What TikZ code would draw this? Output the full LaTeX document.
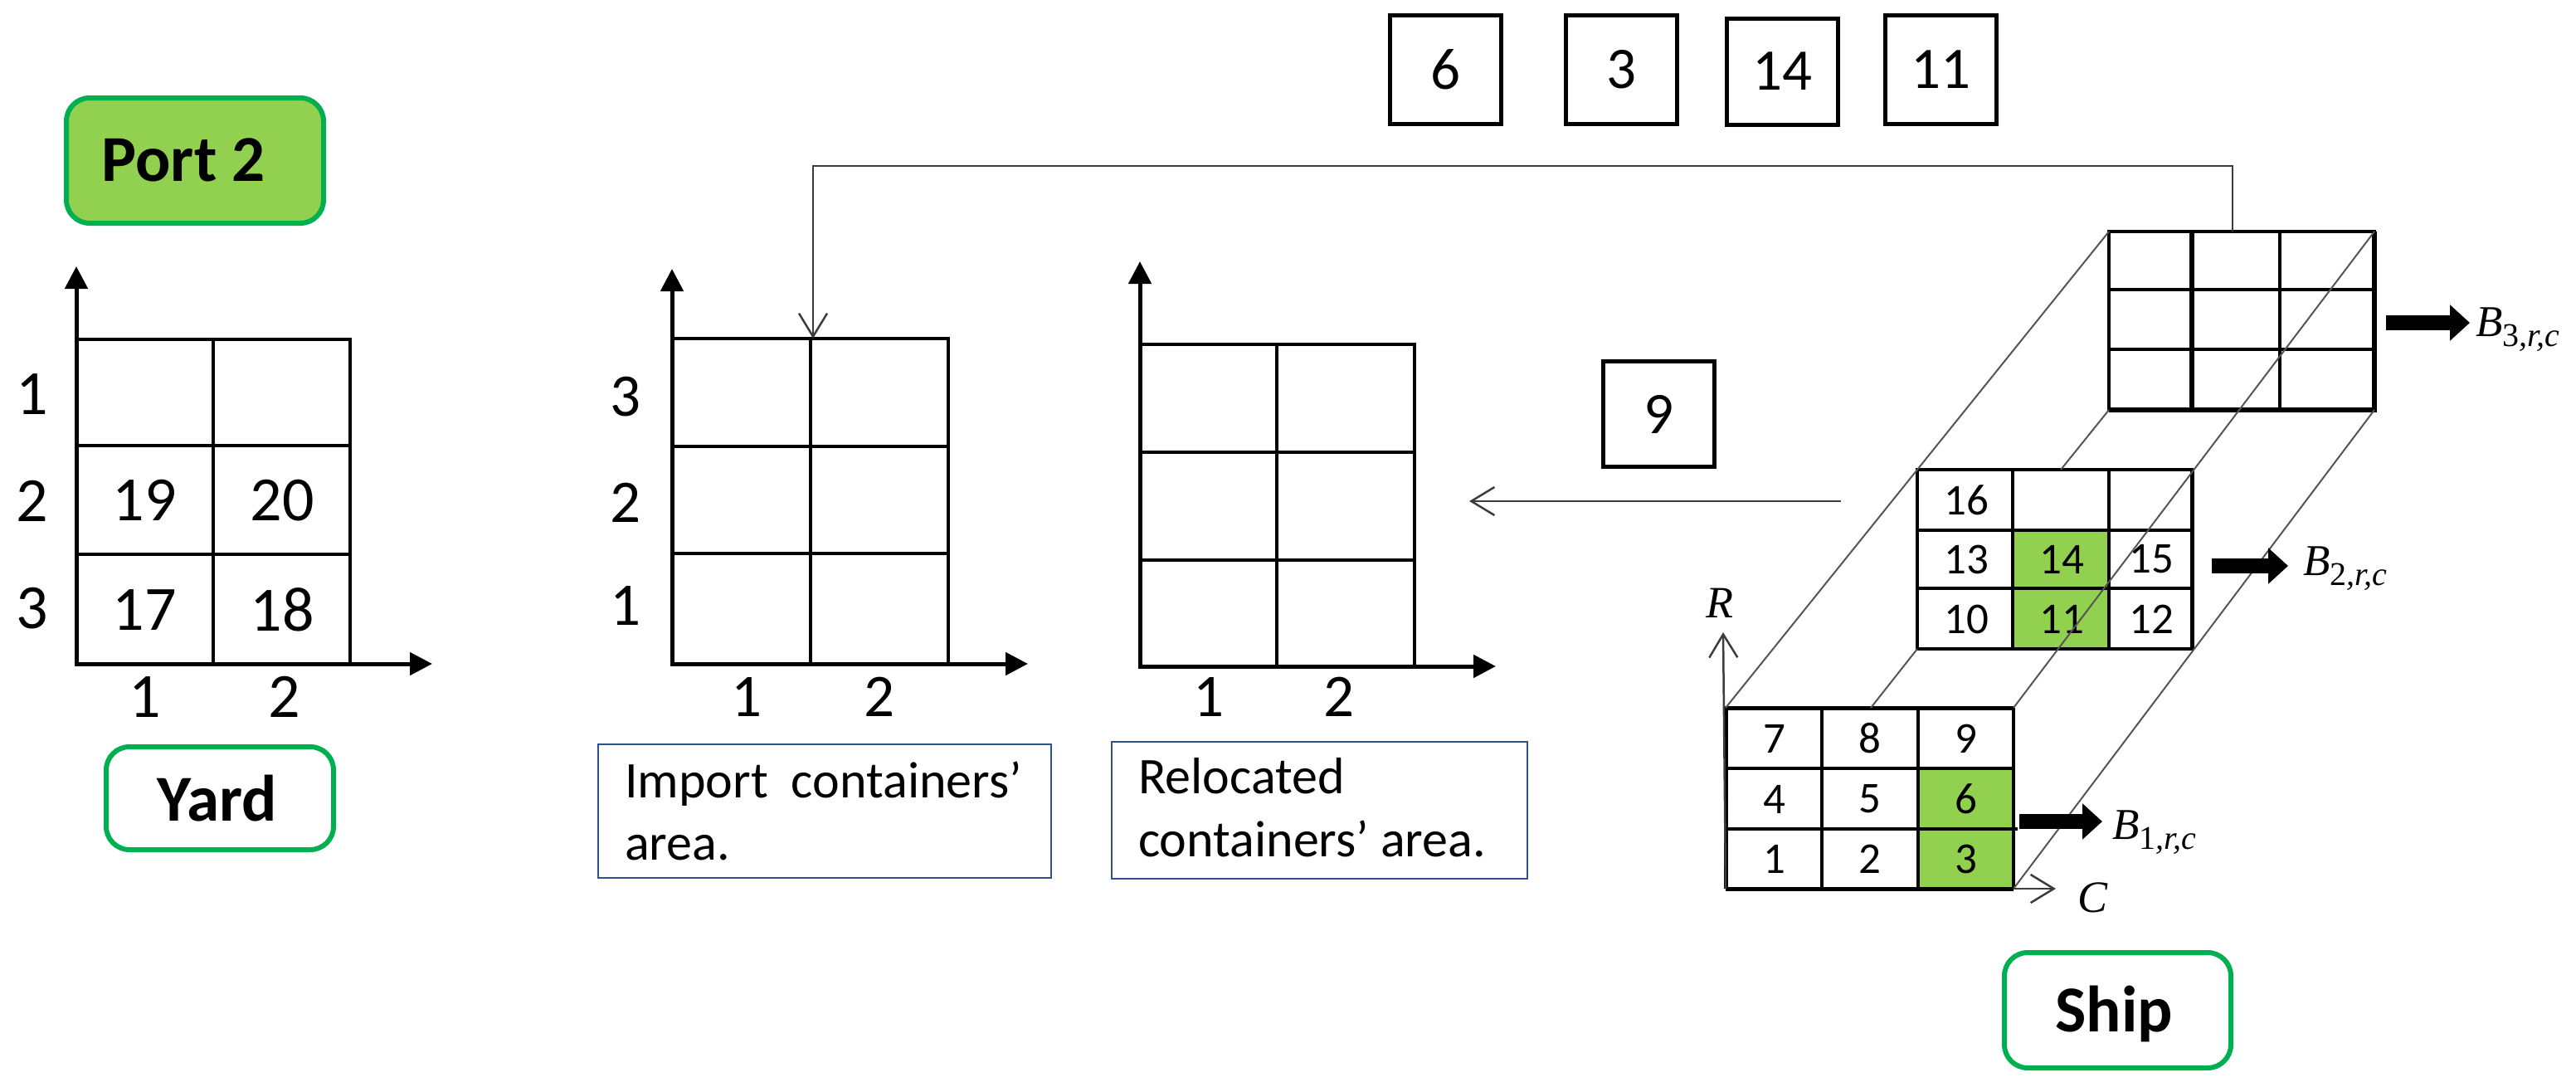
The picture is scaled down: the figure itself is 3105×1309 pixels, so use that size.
\documentclass[tikz,border=0pt]{standalone}
\usepackage{fontspec}
\setmainfont{Carlito}
\newfontfamily\mfam{Liberation Serif}
\usetikzlibrary{arrows.meta}
\definecolor{gfill}{RGB}{146,208,80}
\definecolor{gline}{RGB}{0,176,80}
\definecolor{capline}{RGB}{47,82,143}
\definecolor{thinc}{RGB}{60,60,60}
\definecolor{perspc}{RGB}{85,85,85}
\newcommand\fsz[1]{\fontsize{#1}{#1}\selectfont}
\newcommand\bsub[2]{{\mfam\itshape #1\raisebox{-12pt}{\fsz{40}{\upshape #2},r,c}}}
\tikzset{
  gridln/.style={line width=3.5pt, draw=black},
  thickln/.style={line width=6pt, draw=black},
  axisln/.style={line width=5pt, draw=black, -{Triangle[length=27pt,width=27pt]}},
  openarrow/.style={line width=2.5pt, draw=thinc, -{Straight Barb[length=28pt,width=34pt]}},
  persp/.style={line width=2pt, draw=perspc},
  bigarrow/.style={line width=18pt, draw=black, -{Triangle[length=24pt,width=42pt]}},
  greenbox/.style={draw=gline, line width=6pt, rounded corners=28pt, inner sep=0pt},
  numbox/.style={draw=black, line width=5pt, minimum width=134pt, inner sep=0pt, font=\fsz{71}},
  capbox/.style={draw=capline, line width=2.5pt, inner sep=0pt},
  captxt/.style={anchor=base west, inner sep=0pt, font=\fsz{62}},
  ylab/.style={inner sep=0pt, font=\fsz{76}},
  ilab/.style={inner sep=0pt, font=\fsz{73}},
  snum/.style={inner sep=0pt, font=\fsz{53}},
  blab/.style={anchor=base west, inner sep=0pt, font=\fsz{53}},
  axlab/.style={inner sep=0pt, font=\fsz{54}\mfam\itshape},
  tbold/.style={inner sep=0pt, font=\fsz{79}\bfseries}
}
\begin{document}
\begin{tikzpicture}[x=1pt,y=-1pt]
\useasboundingbox (0,0) rectangle (3105,1309);

% ---------------- Port 2 / Yard / Ship labels ----------------
\node[greenbox, fill=gfill, minimum width=310pt, minimum height=151pt] (port) at (235,193.5) {};
\node[tbold] (porttxt) at (221,193) {Port 2};
\node[greenbox, fill=white, minimum width=274pt, minimum height=124pt] (yard) at (265,962) {};
\node[tbold] (yardtxt) at (262,962) {Yard};
\node[greenbox, fill=white, minimum width=273pt, minimum height=139pt] (ship) at (2552.5,1217.5) {};
\node[tbold] (shiptxt) at (2548,1222) {Ship};

% yard grid
\draw[gridln] (92,409) rectangle (422,800);
\draw[gridln] (257,409) -- (257,800);
\draw[gridln] (92,537) -- (422,537) (92,668) -- (422,668);
\draw[axisln] (92,802) -- (92,321);
\draw[axisln] (90,800) -- (521,800);
\node[ylab] (yr1) at (39,475) {1};
\node[ylab] (yr2) at (39,604) {2};
\node[ylab] (yr3) at (39,733) {3};
\node[ylab] (yc1) at (175,840) {1};
\node[ylab] (yc2) at (343,840) {2};
\node[ylab] (y19) at (174,603) {19};
\node[ylab] (y20) at (340,603) {20};
\node[ylab] (y17) at (174,735) {17};
\node[ylab] (y18) at (340,735) {18};

% ---------------- Import area ----------------
\draw[gridln] (810,408) rectangle (1143,800);
\draw[gridln] (977,408) -- (977,800);
\draw[gridln] (810,538) -- (1143,538) (810,667) -- (1143,667);
\draw[axisln] (810,802) -- (810,324);
\draw[axisln] (808,800) -- (1239,800);
\node[ilab] (ir3) at (754,478) {3};
\node[ilab] (ir2) at (754,606) {2};
\node[ilab] (ir1) at (754,730) {1};
\node[ilab] (ic1) at (900,840) {1};
\node[ilab] (ic2) at (1060,840) {2};
\node[capbox, minimum width=546pt, minimum height=161pt] (impbox) at (994,977.5) {};
\node[captxt] (impl1) at (753,961) {Import\hspace{0.45em}containers’};
\node[captxt] (impl2) at (753,1036) {area.};

% ---------------- Relocated area ----------------
\draw[gridln] (1374,415) rectangle (1705,803);
\draw[gridln] (1539,415) -- (1539,803);
\draw[gridln] (1374,545) -- (1705,545) (1374,675) -- (1705,675);
\draw[axisln] (1374,805) -- (1374,315);
\draw[axisln] (1372,803) -- (1803,803);
\node[ilab] (rc1) at (1457,840) {1};
\node[ilab] (rc2) at (1614,840) {2};
\node[capbox, minimum width=501pt, minimum height=165pt] (relbox) at (1590.5,976.5) {};
\node[captxt] (rell1) at (1372,956) {Relocated};
\node[captxt] (rell2) at (1372,1032) {containers’ area.};

% ---------------- container boxes ----------------
\node[numbox, minimum height=131pt] (b6) at (1742.5,84) {6};
\node[numbox, minimum height=131pt] (b3) at (1954.5,84) {3};
\node[numbox, minimum height=128pt] (b14) at (2148,86) {14};
\node[numbox, minimum height=131pt] (b11) at (2339,84) {11};
\node[numbox, minimum height=127pt] (b9) at (1999.5,499) {9};

% ---------------- Ship ----------------
\coordinate (F-tl) at (2080,853);
\coordinate (F-tr) at (2427,853);
\coordinate (F-bl) at (2080,1071);
\coordinate (F-br) at (2427,1071);
\coordinate (M-tl) at (2311,566);
\coordinate (M-br) at (2642,782);
\coordinate (M-bl) at (2311,782);
\coordinate (K-tl) at (2542,279);
\coordinate (K-tr) at (2862,279);
\coordinate (K-bl) at (2542,494);
\coordinate (K-br) at (2862,494);
\coordinate (BLa) at (2484,566);
\coordinate (BLb) at (2255,853);

% green cells
\fill[gfill] (2312,926) rectangle (2427,1071);
\fill[gfill] (2426,639) rectangle (2542,782);

% front grid
\draw[gridln] (2196,853) -- (2196,1071) (2312,853) -- (2312,1071);
\draw[gridln] (2080,926) -- (2427,926) (2080,999) -- (2432,999);
\draw[gridln] (F-tr) -- (F-br);
\draw[line width=5pt] (F-bl) -- (F-tl) -- (F-tr);
\draw[line width=5pt] (F-bl) -- (F-br);
% middle grid
\draw[gridln] (M-tl) rectangle (M-br);
\draw[gridln] (2426,566) -- (2426,782) (2542,566) -- (2542,782);
\draw[gridln] (2311,639) -- (2642,639) (2311,709) -- (2642,709);
\draw[line width=5pt] (2642,566) -- (M-br);
% back grid
\draw[gridln] (K-tl) rectangle (K-br);
\draw[gridln] (2748,279) -- (2748,494);
\draw[gridln] (2542,349) -- (2862,349) (2542,421) -- (2862,421);
\draw[thickln] (2642,279) -- (2642,494);
\draw[thickln] (K-tr) -- (K-br) -- (K-bl);

% numbers front
\node[snum] (n7) at (2139,890) {7};
\node[snum] (n8) at (2254,890) {8};
\node[snum] (n9) at (2370,890) {9};
\node[snum] (n4) at (2139,963) {4};
\node[snum] (n5) at (2254,963) {5};
\node[snum] (n6) at (2370,963) {6};
\node[snum] (n1) at (2139,1035) {1};
\node[snum] (n2) at (2254,1035) {2};
\node[snum] (n3) at (2370,1035) {3};
% numbers middle
\node[snum] (n16) at (2370,603) {16};
\node[snum] (n13) at (2370,674) {13};
\node[snum] (n14) at (2485,674) {14};
\node[snum] (n15) at (2593,674) {15};
\node[snum] (n10) at (2370,746) {10};
\node[snum] (n11) at (2485,746) {11};
\node[snum] (n12) at (2593,746) {12};

% perspective edges
\draw[persp] (F-tl) -- (K-tl);
\draw[persp] (F-tr) -- (K-tr);
\draw[persp] (F-br) -- (K-br);
\draw[persp] (K-bl) -- (BLa);
\draw[persp] (M-bl) -- (BLb);

% R and C axes
\coordinate (Rtip) at (2077,762);
\coordinate (Ctip) at (2478,1071);
\draw[openarrow] (F-bl) -- (Rtip);
\draw[openarrow] (F-br) -- (Ctip);
\node[axlab] (Rl) at (2073,727) {R};
\node[axlab] (Cl) at (2522,1082) {C};

% block arrows and labels
\coordinate (a1s) at (2434,990); \coordinate (a1e) at (2534,990);
\coordinate (a2s) at (2666,682); \coordinate (a2e) at (2758,682);
\coordinate (a3s) at (2876,389); \coordinate (a3e) at (2977,389);
\draw[bigarrow] (a1s) -- (a1e);
\draw[bigarrow] (a2s) -- (a2e);
\draw[bigarrow] (a3s) -- (a3e);
\node[blab] (B1) at (2546,1011) {\bsub{B}{1}};
\node[blab] (B2) at (2776,693) {\bsub{B}{2}};
\node[blab] (B3) at (2984,405) {\bsub{B}{3}};

% ---------------- connectors ----------------
\coordinate (backtop) at (2691,279);
\coordinate (jog) at (980,200);
\coordinate (imptop) at (980,408);
\draw[openarrow] (backtop) |- (jog) -- (imptop);
\coordinate (unstart) at (2219,604);
\coordinate (unend) at (1771,604);
\draw[openarrow] (unstart) -- (unend);
\end{tikzpicture}
\end{document}
